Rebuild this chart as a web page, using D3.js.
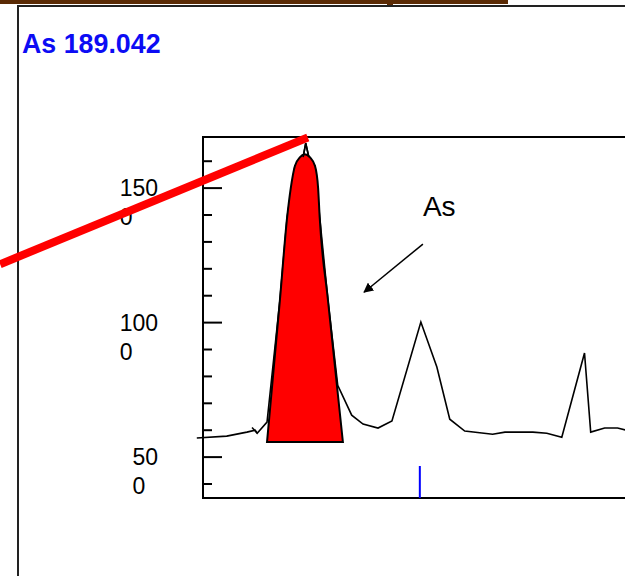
<!DOCTYPE html>
<html>
<head>
<meta charset="utf-8">
<script src="https://cdn.jsdelivr.net/npm/d3@7"></script>
<style>
  html, body { margin: 0; padding: 0; background: #fff; overflow: hidden; }
  svg { display: block; font-family: "Liberation Sans", Arial, sans-serif; }
</style>
</head>
<body>
<div id="chart"></div>
<script>
// spectrum scan around the As 189.042 nm line
var titleText = "As 189.042";

var wavelengths = [188.9988, 189.0046, 189.0085, 189.0101, 189.0105, 189.0124, 189.0149, 189.0163,
    189.0178, 189.0194, 189.0199, 189.0205, 189.0217, 189.0226, 189.0242, 189.0261, 189.0288,
    189.0310, 189.0339, 189.0366, 189.0422, 189.0453, 189.0478, 189.0507, 189.0561, 189.0585,
    189.0639, 189.0666, 189.0695, 189.0739, 189.0751, 189.0778, 189.0803, 189.0826];
var intensities = [571, 578, 593, 600, 589, 630, 1084, 1392,
    1582, 1615, 1667, 1615, 1582, 1392, 1084, 767, 656,
    623, 608, 634, 1002, 835, 641, 597, 585, 593,
    593, 589, 574, 887, 593, 608, 608, 597];

// integrated (red) interfering peak
var peakWavelengths = [189.0124, 189.0149, 189.0163, 189.0170, 189.0178, 189.0188, 189.0197,
    189.0207, 189.0217, 189.0223, 189.0226, 189.0242, 189.0271];
var peakIntensities = [556, 1084, 1392, 1500, 1582, 1615, 1626, 1615, 1582, 1500, 1392, 1084, 556];
var peakBase = 556;

// analyte line marker
var markerWavelength = 189.042;
var markerTop = 467;

// y axis
var yTicks = d3.range(400, 1700, 100);
var yLabelValues = [500, 1000, 1500];

// annotations (data coords)
var annotLabel = "As";
var annotTextPos = [189.0426, 1396];
var annotArrow = [[189.0426, 1292], [189.0312, 1113]];
var slashLine = [[188.9607, 1217], [189.0203, 1688]];
var hookLine = [[189.0095, 610], [189.0105, 589]];

var width = 625, height = 576;

var svg = d3.select("#chart").append("svg")
    .attr("width", width)
    .attr("height", height);

var x = d3.scaleLinear().domain([189.000, 189.080]).range([203, 616]);
var y = d3.scaleLinear().domain([348, 1690]).range([498, 137]);

// top bar + outer frame
svg.append("rect").attr("x", 0).attr("y", 0).attr("width", 508).attr("height", 4).attr("fill", "#5a2a04");
svg.append("rect").attr("x", 387).attr("y", 0).attr("width", 6).attr("height", 7).attr("fill", "#5a2a04");
svg.append("rect")
    .attr("x", 18).attr("y", 6)
    .attr("width", 700).attr("height", 700)
    .attr("fill", "none")
    .attr("stroke", "#222")
    .attr("stroke-width", 2);

svg.append("text")
    .attr("x", 22).attr("y", 53)
    .attr("font-size", 26.8)
    .attr("font-weight", "bold")
    .attr("fill", "#0c0cf4")
    .text(titleText);

// plot box
svg.append("rect")
    .attr("x", x.range()[0]).attr("y", y.range()[1])
    .attr("width", 500).attr("height", y.range()[0] - y.range()[1])
    .attr("fill", "none")
    .attr("stroke", "#000")
    .attr("stroke-width", 2);

// ticks, inward
svg.append("g").selectAll("line")
    .data(yTicks)
    .enter().append("line")
        .attr("x1", x.range()[0])
        .attr("x2", function (d) { return x.range()[0] + (d % 500 === 0 ? 19 : 9); })
        .attr("y1", function (d) { return y(d); })
        .attr("y2", function (d) { return y(d); })
        .attr("stroke", "#000")
        .attr("stroke-width", 2);

// wrapped labels: "150" / "0"
var lab = svg.append("g").selectAll("text")
    .data(yLabelValues)
    .enter().append("text")
        .attr("font-size", 23)
        .attr("fill", "#000");
lab.append("tspan")
    .attr("class", "l1")
    .attr("y", function (d) { return y(d) + 8; })
    .text(function (d) { return String(d).slice(0, -1); });
lab.append("tspan")
    .attr("class", "l2")
    .attr("y", function (d) { return y(d) + 37; })
    .text(function (d) { return String(d).slice(-1); });
lab.each(function () {
    var t = d3.select(this);
    var w = t.select(".l1").node().getComputedTextLength();
    t.selectAll("tspan").attr("x", 158 - w);
});

// blue marker
svg.append("line")
    .attr("x1", x(markerWavelength)).attr("x2", x(markerWavelength))
    .attr("y1", y(markerTop)).attr("y2", y.range()[0])
    .attr("stroke", "#0000ff")
    .attr("stroke-width", 2);

// spectrum
var pts = wavelengths.map(function (w, i) { return [w, intensities[i]]; });
var line = d3.line()
    .x(function (d) { return x(d[0]); })
    .y(function (d) { return y(d[1]); });

svg.append("path")
    .datum(pts)
    .attr("d", line)
    .attr("fill", "none")
    .attr("stroke", "#000")
    .attr("stroke-width", 1.6);

svg.append("path")
    .datum(hookLine)
    .attr("d", line)
    .attr("fill", "none")
    .attr("stroke", "#000")
    .attr("stroke-width", 1.6);

// red peak area
var peakPts = peakWavelengths.map(function (w, i) { return [w, peakIntensities[i]]; });
var area = d3.area()
    .x(function (d) { return x(d[0]); })
    .y0(y(peakBase))
    .y1(function (d) { return y(d[1]); })
    .curve(d3.curveMonotoneX);

svg.append("path")
    .datum(peakPts)
    .attr("d", area)
    .attr("fill", "#ff0000")
    .attr("stroke", "#000")
    .attr("stroke-width", 2);

// spike tip above the filled area
svg.append("path")
    .datum(pts.slice(9, 12))
    .attr("d", line)
    .attr("fill", "none")
    .attr("stroke", "#000")
    .attr("stroke-width", 1.6);

// annotation
svg.append("defs").append("marker")
    .attr("id", "arrow")
    .attr("viewBox", "0 0 10 10")
    .attr("refX", 9).attr("refY", 5)
    .attr("markerWidth", 10).attr("markerHeight", 10)
    .attr("markerUnits", "userSpaceOnUse")
    .attr("orient", "auto")
    .append("path")
        .attr("d", "M0,0L10,5L0,10z")
        .attr("fill", "#000");

svg.append("path")
    .datum(annotArrow)
    .attr("d", line)
    .attr("stroke", "#000")
    .attr("stroke-width", 1.5)
    .attr("marker-end", "url(#arrow)");

svg.append("text")
    .attr("x", x(annotTextPos[0])).attr("y", y(annotTextPos[1]))
    .attr("font-size", 28)
    .attr("fill", "#000")
    .text(annotLabel);

// red slash
svg.append("path")
    .datum(slashLine)
    .attr("d", line)
    .attr("stroke", "#ff0000")
    .attr("stroke-width", 8);
</script>
</body>
</html>
